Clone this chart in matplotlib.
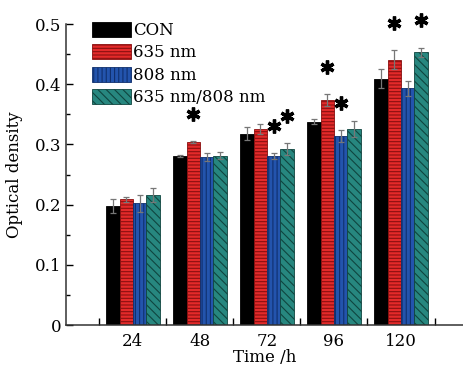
import numpy as np
import matplotlib.pyplot as plt
from matplotlib.ticker import FixedLocator

plt.rcParams['font.family'] = 'DejaVu Serif'
plt.rcParams['font.size'] = 12
plt.rcParams['hatch.linewidth'] = 0.8

# data
times = ['24', '48', '72', '96', '120']
groups = ['CON', '635 nm', '808 nm', '635 nm/808 nm']
con = [0.198, 0.281, 0.318, 0.338, 0.409]
red = [0.209, 0.304, 0.326, 0.374, 0.441]
blue = [0.202, 0.279, 0.281, 0.314, 0.393]
combo = [0.216, 0.281, 0.292, 0.326, 0.453]
con_err = [0.012, 0.002, 0.011, 0.004, 0.016]
red_err = [0.004, 0.002, 0.008, 0.010, 0.016]
blue_err = [0.014, 0.006, 0.005, 0.010, 0.012]
combo_err = [0.012, 0.006, 0.010, 0.013, 0.008]
# (time index, series index) with significance star
stars = [(1, 1), (2, 2), (2, 3), (3, 1), (3, 2), (4, 1), (4, 3)]
yticks = [0, 0.1, 0.2, 0.3, 0.4, 0.5]
ytick_labels = ['0', '0.1', '0.2', '0.3', '0.4', '0.5']

values = [con, red, blue, combo]
errors = [con_err, red_err, blue_err, combo_err]
colors = ['#000000', '#e42a2a', '#2354ad', '#27877f']
hatch_cols = ['#000000', '#8a1010', '#10306e', '#10453f']
hatches = ['', '-----', '||||', '\\\\\\\\']

fig = plt.figure(figsize=(4.64, 3.67), dpi=100)
ax = fig.add_axes([0.142, 0.1144, 0.858, 0.820])

x = np.arange(1, len(times) + 1)
w = 0.2
for i in range(4):
    pos = x + (i - 1.5) * w
    ax.bar(pos, values[i], w, color=colors[i], edgecolor=hatch_cols[i],
           hatch=hatches[i], linewidth=0.6, label=groups[i], zorder=2)
    ax.errorbar(pos, values[i], yerr=errors[i], fmt='none', ecolor='#777777',
                elinewidth=0.9, capsize=2.5, capthick=0.9, zorder=3)

for t, s in stars:
    top = values[s][t] + errors[s][t]
    ax.plot(x[t] + (s - 1.5) * w, top + 0.045, marker=(6, 2, 0),
            markersize=10, mew=2.4, color='black', zorder=4, clip_on=False)

ax.set_xlim(0, 5.94)
ax.set_ylim(0, 0.5)
ax.set_xticks(x)
ax.set_xticklabels(times)
ax.xaxis.set_minor_locator(FixedLocator(np.arange(0.5, 6, 1)))
ax.set_yticks(yticks)
ax.set_yticklabels(ytick_labels)
ax.yaxis.set_minor_locator(FixedLocator(np.arange(0.05, 0.5, 0.1)))
ax.tick_params(axis='x', which='major', length=0, pad=6)
ax.tick_params(axis='x', which='minor', direction='in', length=5, width=1)
ax.tick_params(axis='y', which='major', direction='in', length=5, width=1)
ax.tick_params(axis='y', which='minor', direction='in', length=3, width=1)
for side in ['top', 'right']:
    ax.spines[side].set_visible(False)
for side in ['left', 'bottom']:
    ax.spines[side].set_linewidth(1.1)
    ax.spines[side].set_color('#333333')

ax.set_xlabel('Time /h', labelpad=-1)
ax.set_ylabel('Optical density', labelpad=8)

ax.legend(loc='upper left', bbox_to_anchor=(0.05, 1.03), frameon=False,
          handlelength=2.3, handleheight=1.0, handletextpad=0.15,
          labelspacing=0.32, borderaxespad=0)

fig.savefig('out.png', dpi=100)
